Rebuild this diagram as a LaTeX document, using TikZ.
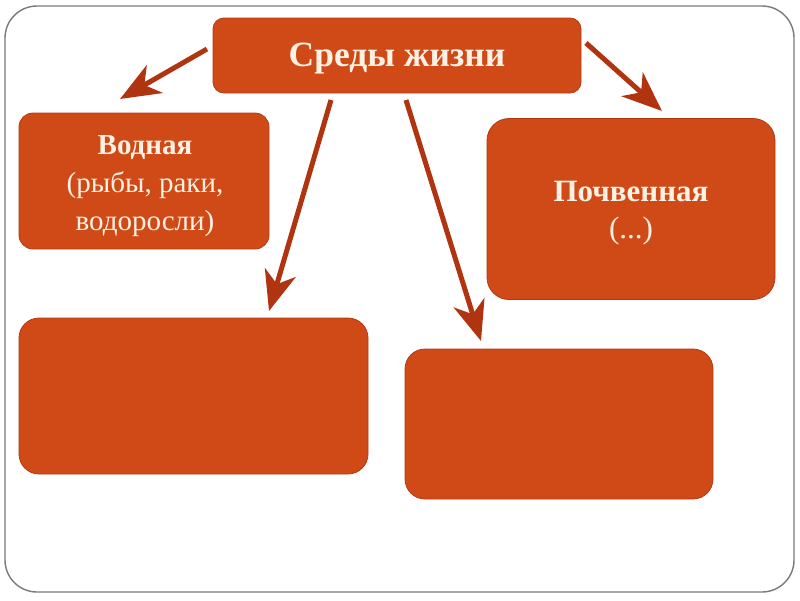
\documentclass[tikz,border=0pt]{standalone}
\usepackage{fontspec}
\setmainfont{Liberation Serif}
\usetikzlibrary{arrows.meta}
\definecolor{boxfill}{HTML}{D04A18}
\definecolor{boxedge}{HTML}{B23A12}
\definecolor{arrowc}{HTML}{B0340F}
\definecolor{txt}{HTML}{FDF1E4}
\definecolor{frame}{HTML}{7A7A7A}
\tikzset{
  rbox/.style={draw=boxedge, line width=0.8pt, fill=boxfill, rounded corners=14pt, inner sep=0pt},
  boxtext/.style={text=txt, align=center, inner sep=0pt},
  bigarrow/.style={draw=arrowc, line width=5pt, -{Stealth[length=40pt,width=32pt,inset=12pt]}},
}
\begin{document}
\begin{tikzpicture}[x=1pt,y=-1pt]
\useasboundingbox (0,0) rectangle (800,600);
\draw[frame, line width=1.4pt, rounded corners=32pt] (5,6) rectangle (794,592);
\node[rbox, rounded corners=11pt, minimum width=368pt, minimum height=75pt] (top) at (397,55.5) {};
\node[boxtext, font=\bfseries\fontsize{35.5}{40}\selectfont] (topText) at (397,58.5) {Среды жизни};
\node[rbox, minimum width=250pt, minimum height=136pt] (water) at (144,181) {};
\node[boxtext, font=\fontsize{29}{38}\selectfont] (waterText) at (145,186) {\textbf{Водная}\\(рыбы, раки,\\водоросли)};
\node[rbox, rounded corners=22pt, minimum width=288pt, minimum height=181pt] (soil) at (631,209) {};
\node[boxtext, font=\fontsize{31}{37}\selectfont] (soilText) at (631,213) {\textbf{Почвенная}\\(...)};
\node[rbox, rounded corners=20pt, minimum width=349pt, minimum height=156pt] (bl) at (193.5,396) {};
\node[rbox, rounded corners=20pt, minimum width=308pt, minimum height=150pt] (bm) at (559,424) {};
\coordinate (s1) at (207,49); \coordinate (e1) at (120,99);
\coordinate (s2) at (586,43); \coordinate (e2) at (662,111);
\coordinate (s3) at (331,100); \coordinate (e3) at (269,311);
\coordinate (s4) at (406,100); \coordinate (e4) at (481,341);
\draw[bigarrow] (s1) -- (e1);
\draw[bigarrow] (s2) -- (e2);
\draw[bigarrow] (s3) -- (e3);
\draw[bigarrow] (s4) -- (e4);
\end{tikzpicture}
\end{document}
